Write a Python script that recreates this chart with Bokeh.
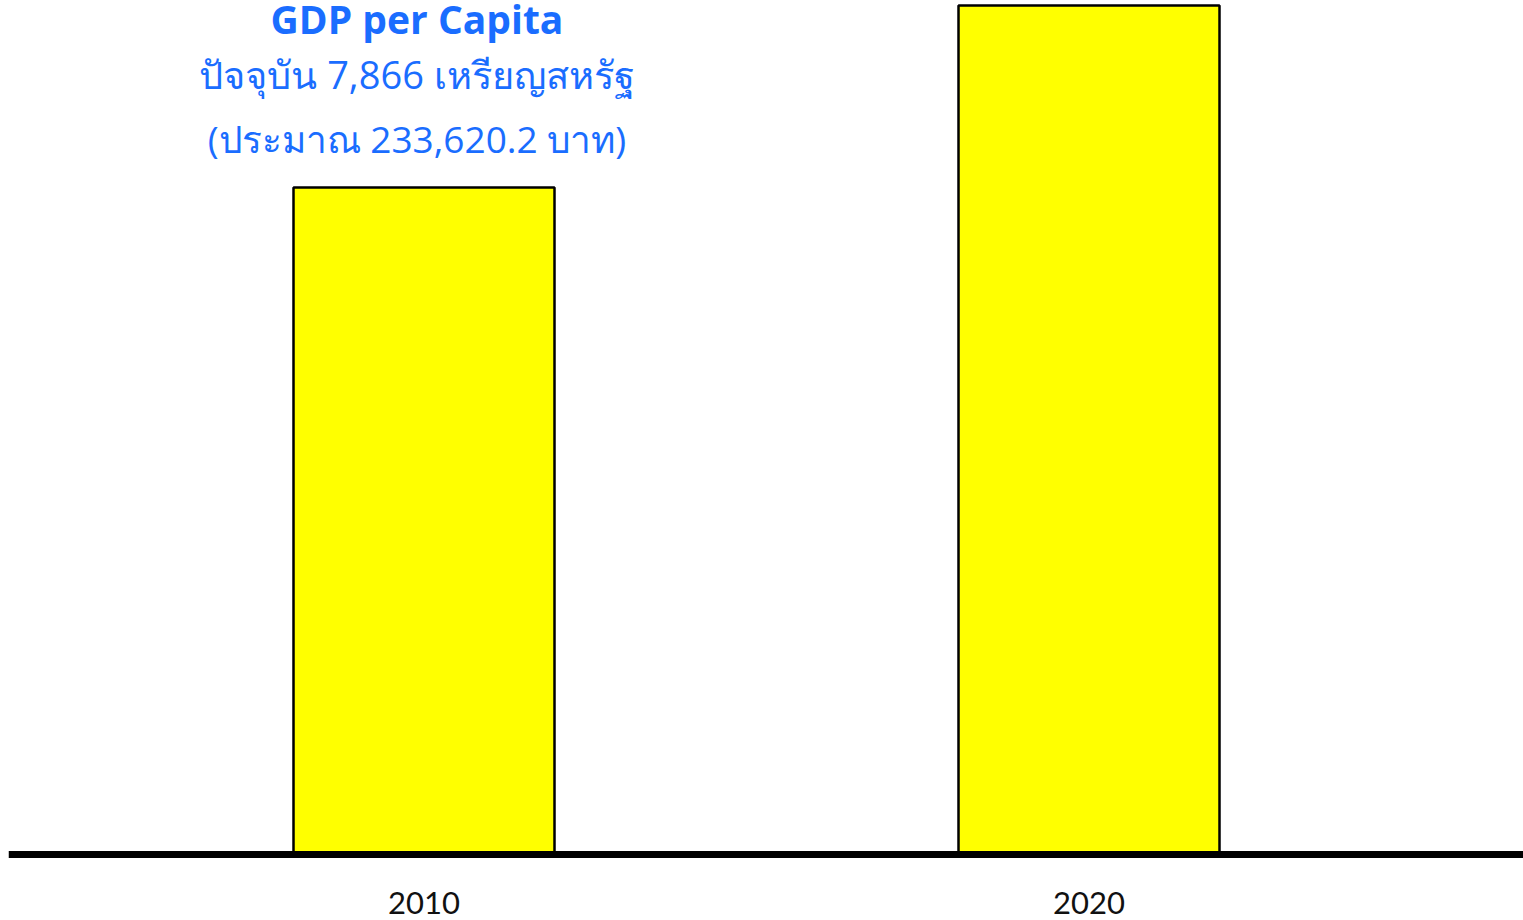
from bokeh.plotting import figure
from bokeh.models import Range1d, Span, ColumnDataSource
from bokeh.core.properties import value
from bokeh.embed import file_html
from bokeh.resources import INLINE

# ---- data ----
years = [2010, 2020]
gdp_usd = [6180, 7866]
year_labels = ["2010", "2020"]
title_lines = [
    "GDP per Capita",
    "ปัจจุบัน 7,866 เหรียญสหรัฐ",
    "(ประมาณ 233,620.2 บาท)",
]

W, H = 1523, 920
LEFT = 8
px_per_year = 66.5
x0 = 2010 - 415.5 / px_per_year
units_per_px = 7866 / 849.0
y_end = 854 * units_per_px
y_start = -(H - 854) * units_per_px

p = figure(width=W, height=H, output_backend="svg", toolbar_location=None,
           x_range=Range1d(x0, x0 + (W - LEFT) / px_per_year),
           y_range=Range1d(y_start, y_end),
           min_border=0, min_border_left=LEFT, outline_line_color=None,
           x_axis_type=None, y_axis_type=None)
p.grid.visible = False
p.background_fill_color = "white"
p.border_fill_color = "white"

base = Span(location=0, dimension="width", line_color="black", line_width=7)
p.add_layout(base)

src = ColumnDataSource(dict(x=years, top=gdp_usd, lab=year_labels))
p.vbar(x="x", top="top", bottom=0, width=261 / px_per_year, source=src,
       fill_color="#ffff00", line_color="black", line_width=2.5)

p.text(x="x", y=0, text="lab", source=src, y_offset=48,
       text_align="center", text_baseline="alphabetic",
       text_font=value("Lato"), text_font_size="31px", text_color="#111111")

tsrc = ColumnDataSource(dict(x=[2010] * 3, y=[y_end] * 3, t=title_lines,
                             off=[18, 73, 138],
                             fs=["39px", "38px", "37px"],
                             fst=["bold", "normal", "normal"]))
p.text(x="x", y="y", text="t", source=tsrc, x_offset=-7, y_offset="off",
       text_align="center", text_baseline="alphabetic",
       text_font=value("Open Sans"), text_font_size="fs", text_font_style="fst",
       text_color="#1a6dff")

open("out.html", "w").write(file_html(p, INLINE))
